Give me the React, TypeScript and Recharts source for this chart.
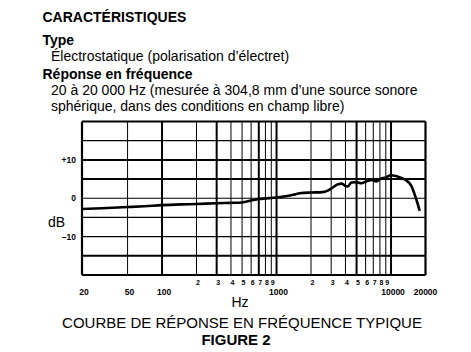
import React from "react";
import {
  LineChart,
  Line,
  XAxis,
  YAxis,
  ReferenceLine,
} from "recharts";

// response curve (Hz / dB)
const FREQS = [
  20, 30, 50, 70, 100, 150, 200, 300, 400, 500, 600, 700, 800, 1000, 1200,
  1400, 1600, 2000, 2500, 2800, 3100, 3400, 3700, 4000, 4200, 4500, 5000,
  5500, 6000, 6800, 7400, 8000, 9000, 10000, 11000, 12000, 13500, 15000,
  16500, 17800,
];
const LEVELS = [
  -2.8, -2.6, -2.3, -2.1, -1.8, -1.6, -1.5, -1.3, -1.2, -1.1, -0.6, -0.2,
  -0.05, 0.2, 0.5, 0.9, 1.3, 1.5, 1.6, 2.0, 2.8, 3.6, 3.8, 3.2, 3.1, 4.1, 4.2,
  3.9, 4.3, 4.8, 4.4, 5.0, 5.4, 6.0, 5.8, 5.4, 4.7, 3.3, 0, -3.3,
];

const GRID_FREQS = [
  50, 100, 200, 300, 400, 500, 600, 700, 800, 900, 1000, 2000, 3000, 4000,
  5000, 6000, 7000, 8000, 9000, 10000,
];
const BOLD_FREQS = [100, 300, 700, 1000, 5000, 10000];
const GRID_DB = [15, 10, 5, 0, -5, -10, -15];
const BOLD_DB = [10, 5, -15];

const MAJOR_TICKS = [20, 50, 100, 1000, 10000, 20000];
const MINOR_TICKS = [
  200, 300, 400, 500, 600, 700, 800, 900, 2000, 3000, 4000, 5000, 6000, 7000,
  8000, 9000,
];
const DB_TICKS = [10, 0, -10];
const DB_LABELS = ["+10", "0", "–10"];

const data = FREQS.map((f, i) => ({ f, db: LEVELS[i] }));

const FONT = "'Liberation Sans', Arial, Helvetica, sans-serif";

const FreqTick = (props: any) => {
  const { x, y, payload } = props;
  const v = payload.value as number;
  if (MAJOR_TICKS.includes(v)) {
    return (
      <text
        x={x + (v === 20000 ? 0 : 2)}
        y={y + 20}
        textAnchor="middle"
        fontSize={8.5}
        fontWeight="bold"
        fontFamily={FONT}
        fill="#000"
      >
        {v}
      </text>
    );
  }
  return (
    <text
      x={x + 1.5}
      y={y + 9.5}
      textAnchor="middle"
      fontSize={7}
      fontWeight="bold"
      fontFamily={FONT}
      fill="#000"
    >
      {String(v)[0]}
    </text>
  );
};

export default function App() {
  return (
    <div
      style={{
        position: "absolute",
        left: 0,
        top: 0,
        width: 471,
        height: 352,
        background: "#fff",
        fontFamily: FONT,
      }}
    >
      <svg
        width={471}
        height={352}
        style={{ position: "absolute", left: 0, top: 0 }}
        fontFamily={FONT}
      >
        <text x={42.5} y={22} fontSize={14} fontWeight="bold">
          CARACTÉRISTIQUES
        </text>
        <text x={42.5} y={45} fontSize={14} fontWeight="bold">
          Type
        </text>
        <text x={51} y={61} fontSize={14}>
          Électrostatique (polarisation d’électret)
        </text>
        <text x={42.5} y={79} fontSize={14} fontWeight="bold">
          Réponse en fréquence
        </text>
        <text x={51} y={95} fontSize={14}>
          20 à 20 000 Hz (mesurée à 304,8 mm d’une source sonore
        </text>
        <text x={51} y={111} fontSize={14}>
          sphérique, dans des conditions en champ libre)
        </text>
        <text x={48} y={227} fontSize={14}>
          dB
        </text>
        <text x={240} y={307} fontSize={14} textAnchor="middle">
          Hz
        </text>
        <text x={242} y={328} fontSize={15} textAnchor="middle">
          COURBE DE RÉPONSE EN FRÉQUENCE TYPIQUE
        </text>
        <text x={236} y={345} fontSize={15} fontWeight="bold" textAnchor="middle">
          FIGURE 2
        </text>
      </svg>

      <div style={{ position: "absolute", left: 0, top: 0 }}>
        <LineChart
          width={471}
          height={352}
          data={data}
          margin={{ top: 121.5, right: 45.5, bottom: 47, left: 52 }}
        >
          <XAxis
            dataKey="f"
            type="number"
            scale="log"
            domain={[20, 20000]}
            allowDataOverflow
            ticks={[...MAJOR_TICKS, ...MINOR_TICKS]}
            interval={0}
            tick={<FreqTick />}
            tickLine={false}
            axisLine={false}
            tickSize={0}
            tickMargin={0}
            height={30}
          />
          <YAxis
            type="number"
            domain={[-20, 20]}
            ticks={DB_TICKS}
            interval={0}
            tickFormatter={(v: number) => DB_LABELS[DB_TICKS.indexOf(v)]}
            tick={{ fontSize: 8.5, fontWeight: "bold", fill: "#000", fontFamily: FONT }}
            tickLine={false}
            axisLine={false}
            tickSize={0}
            tickMargin={6}
            width={30}
          />
          {GRID_FREQS.map((f) => (
            <ReferenceLine
              key={"v" + f}
              x={f}
              stroke="#000"
              strokeWidth={BOLD_FREQS.includes(f) ? 2 : 1}
            />
          ))}
          {GRID_DB.map((d) => (
            <ReferenceLine
              key={"h" + d}
              y={d}
              stroke="#000"
              strokeWidth={BOLD_DB.includes(d) ? 2 : 1.2}
            />
          ))}
          <ReferenceLine x={20} stroke="#000" strokeWidth={2.2} />
          <ReferenceLine x={20000} stroke="#000" strokeWidth={2.2} />
          <ReferenceLine y={20} stroke="#000" strokeWidth={2.2} />
          <ReferenceLine y={-20} stroke="#000" strokeWidth={2.2} />
          <Line
            type="monotone"
            dataKey="db"
            stroke="#000"
            strokeWidth={2.6}
            dot={false}
            isAnimationActive={false}
          />
        </LineChart>
      </div>
    </div>
  );
}
